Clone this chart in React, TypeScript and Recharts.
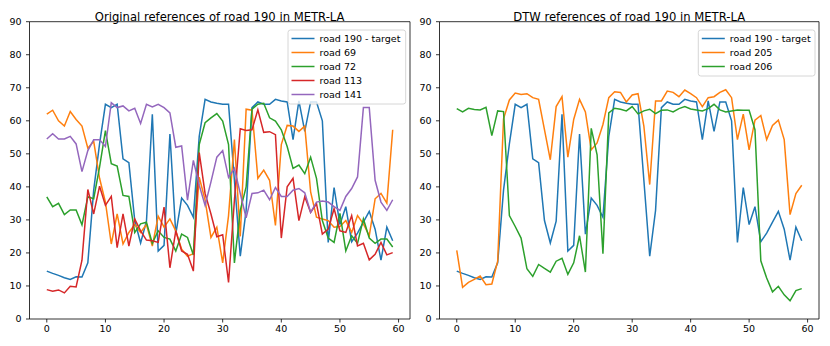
import React from "react";
import { LineChart, Line, XAxis, YAxis, ReferenceArea } from "recharts";

// time steps 0..59
const steps = Array.from({ length: 60 }, (_, i) => i);

const road190 = [
  14.5, 13.8, 13.2, 12.5, 12.0, 12.8, 12.7, 17, 39, 53,
  65, 64, 65, 48.5, 47.3, 29.8, 23, 29.6, 62, 20.6,
  22.3, 56, 25.7, 36.6, 34.4, 30.8, 55.3, 66.5, 65.7, 65.3,
  65, 65, 42, 19, 32.9, 64, 65.7, 65, 65, 66.5,
  66, 65.7, 54.3, 66, 56.8, 65.7, 65.7, 60, 23.2, 39.8,
  28.6, 34, 23.4, 26, 29.3, 32.6, 27.2, 17.8, 27.8, 23.7,
];

const road69 = [
  62, 63.2, 60, 58.4, 62.8, 60.4, 58.4, 51.7, 53.8, 42.6,
  35.4, 22.7, 31.8, 22.7, 26.2, 28.6, 26.2, 28.6, 22.1, 31.1,
  27.8, 30.3, 26.7, 21.1, 19, 19.8, 42.9, 36, 24.7, 27.8,
  17, 31.3, 54.3, 25, 63.5, 63.2, 42.6, 45.1, 42, 28.3,
  52.8, 58.6, 58.4, 56.8, 58.4, 38.5, 30.8, 30.3, 29.8, 27.8,
  28, 29.8, 26.2, 31.3, 28.8, 25.2, 36.4, 38, 35.1, 57.3,
];

const road72 = [
  37, 34, 35, 31.6, 33, 33, 28.5, 37, 36.4, 46,
  57, 47, 46.3, 37.4, 37.1, 26.2, 28.8, 29.3, 22.9, 26.7,
  24.7, 24.2, 20.6, 25.7, 24.7, 19.4, 52.8, 59.4, 60.9, 62.2,
  59.9, 52.8, 17, 32.9, 40, 63.5, 65, 65.3, 60.9, 59.9,
  57.3, 52.2, 45.6, 46.6, 44, 49, 42.6, 29.8, 24.5, 23.2,
  32, 20.6, 25.2, 22.9, 30.3, 24.5, 22.9, 24.2, 24.2, 21.8,
];

const road113 = [
  8.9, 8.4, 8.8, 7.9, 9.9, 9.7, 17.8, 39.2, 31.8, 40.2,
  34.4, 37.1, 21.6, 31.8, 22.1, 30.3, 26.7, 23.9, 23.7, 23.2,
  33.9, 15.5, 26.7, 20.6, 19.6, 14.5, 50.4, 38, 31.8, 24.9,
  25.5, 11.1, 35.9, 57.6, 57.1, 57.3, 63.3, 56.5, 56.7, 55.8,
  24.5, 40, 42.6, 29.8, 37, 32.3, 34.9, 25.7, 27.2, 33.4,
  26.7, 26.2, 31.3, 22.1, 22.9, 17.9, 19.6, 23.2, 19.4, 20.1,
];

const road141 = [
  54.5, 56.1, 54.5, 54.5, 55.3, 53, 44.6, 51, 54.3, 54.3,
  52.2, 65.5, 64, 64.5, 63, 63.8, 59.2, 65, 64.2, 65,
  64, 62.4, 52, 52.4, 36, 48, 40.5, 34.4, 41.5, 49,
  51, 42.9, 45.6, 38, 30.6, 38, 38.2, 39, 36.1, 39.8,
  37.1, 37.1, 39, 39.5, 38.2, 32.3, 35.4, 35.7, 35.4, 34,
  32.9, 37.1, 39.5, 43, 64, 64, 42, 35.4, 32.9, 36.1,
];

const road205 = [
  20.8, 9.6, 11.1, 12, 13, 10.4, 10.6, 17.5, 60.6, 66.3,
  68.4, 68, 68.2, 67, 66.5, 57.3, 48.2, 64.3, 67.3, 49,
  60.4, 66.5, 62.7, 51.2, 53.3, 58.9, 67, 68.8, 68.6, 65.7,
  67.8, 68.2, 58.4, 40.7, 66, 66, 69, 68.6, 67.3, 69.3,
  68.2, 67, 64.3, 67, 67.3, 68.6, 69.4, 67, 54.3, 62,
  51.2, 60.2, 61.6, 54.3, 58.6, 60.2, 54.3, 31.6, 38, 40.5,
];

const road206 = [
  63.7, 62.7, 63.8, 63.4, 63.3, 64.1, 55.5, 63, 62.8, 31.3,
  28, 24.5, 15.2, 12.9, 16.5, 15.3, 14.2, 17.5, 18.4, 13.5,
  17, 25.2, 14.2, 57.7, 49.7, 19.8, 62.4, 63.8, 63.5, 63,
  64.3, 62.1, 63, 63.5, 62.2, 63.2, 63.3, 62.7, 63.7, 64.3,
  63.6, 63.3, 63, 63.7, 65, 63.3, 62.7, 63, 63.3, 63.2,
  63.2, 57.3, 17.6, 12.4, 8.2, 9.9, 7.3, 5.5, 8.6, 9.2,
];

const xTicks = [0, 10, 20, 30, 40, 50, 60];
const yTicks = [0, 10, 20, 30, 40, 50, 60, 70, 80, 90];

const BLUE = "#1f77b4";
const ORANGE = "#ff7f0e";
const GREEN = "#2ca02c";
const RED = "#d62728";
const PURPLE = "#9467bd";

const FONT = "DejaVu Sans";
const X_MIN = -2.95;
const X_MAX = 61.95;

type Series = { key: string; name: string; color: string; values: number[] };

const originalSeries: Series[] = [
  { key: "r190", name: "road 190 - target", color: BLUE, values: road190 },
  { key: "r69", name: "road 69", color: ORANGE, values: road69 },
  { key: "r72", name: "road 72", color: GREEN, values: road72 },
  { key: "r113", name: "road 113", color: RED, values: road113 },
  { key: "r141", name: "road 141", color: PURPLE, values: road141 },
];

const dtwSeries: Series[] = [
  { key: "r190", name: "road 190 - target", color: BLUE, values: road190 },
  { key: "r205", name: "road 205", color: ORANGE, values: road205 },
  { key: "r206", name: "road 206", color: GREEN, values: road206 },
];

function Panel({ left, width, rightMargin, series }: { left: number; width: number; rightMargin: number; series: Series[] }) {
  const data = steps.map((t, i) => {
    const row: Record<string, number> = { t };
    series.forEach((s) => (row[s.key] = s.values[i]));
    return row;
  });
  const tickStyle = { fill: "#000", fontSize: 9.5, fontFamily: FONT };
  return (
    <div style={{ position: "absolute", left, top: 0 }}>
      <LineChart width={width} height={346} data={data} margin={{ top: 21.7, right: rightMargin, bottom: 0, left: 0 }}>
        <XAxis
          dataKey="t"
          type="number"
          domain={[X_MIN, X_MAX]}
          ticks={xTicks}
          interval={0}
          allowDataOverflow
          height={27}
          tickSize={3.5}
          tickMargin={3}
          axisLine={false}
          tickLine={{ stroke: "#000", strokeWidth: 0.8 }}
          tick={tickStyle}
        />
        <YAxis
          type="number"
          domain={[0, 90]}
          ticks={yTicks}
          interval={0}
          allowDataOverflow
          width={29.5}
          tickSize={3.5}
          tickMargin={4.5}
          axisLine={false}
          tickLine={{ stroke: "#000", strokeWidth: 0.8 }}
          tick={tickStyle}
        />
        {series.map((s) => (
          <Line
            key={s.key}
            type="linear"
            dataKey={s.key}
            name={s.name}
            stroke={s.color}
            strokeWidth={1.5}
            dot={false}
            activeDot={false}
            isAnimationActive={false}
          />
        ))}
        <ReferenceArea x1={X_MIN} x2={X_MAX} y1={0} y2={90} fill="none" fillOpacity={0} stroke="#000" strokeWidth={0.8} />
      </LineChart>
    </div>
  );
}

function LegendBox({ x, y, w, series }: { x: number; y: number; w: number; series: Series[] }) {
  const rowH = 14;
  const h = series.length * rowH + 4;
  return (
    <g>
      <rect x={x} y={y} width={w} height={h} rx={2.5} fill="#fff" fillOpacity={0.8} stroke="#cccccc" strokeWidth={0.8} />
      {series.map((s, i) => {
        const cy = y + 8.5 + i * rowH;
        return (
          <g key={s.key}>
            <line x1={x + 3.5} x2={x + 26.5} y1={cy} y2={cy} stroke={s.color} strokeWidth={1.5} />
            <text x={x + 31.5} y={cy + 3.4} fontSize={9.5} fontFamily={FONT} fill="#000">
              {s.name}
            </text>
          </g>
        );
      })}
    </g>
  );
}

export default function App() {
  return (
    <div style={{ position: "absolute", left: 0, top: 0, width: 830, height: 346, background: "#fff" }}>
      <Panel left={0} width={415} rightMargin={5} series={originalSeries} />
      <Panel left={410} width={420} rightMargin={11} series={dtwSeries} />
      <svg width={830} height={346} style={{ position: "absolute", left: 0, top: 0, pointerEvents: "none" }}>
        <text x={219.7} y={20.5} textAnchor="middle" fontSize={11.6} fontFamily={FONT} fill="#000">
          Original references of road 190 in METR-LA
        </text>
        <text x={629.2} y={20.5} textAnchor="middle" fontSize={11.6} fontFamily={FONT} fill="#000">
          DTW references of road 190 in METR-LA
        </text>
        <LegendBox x={288} y={30} w={117.7} series={originalSeries} />
        <LegendBox x={698.3} y={30} w={116.7} series={dtwSeries} />
      </svg>
    </div>
  );
}
